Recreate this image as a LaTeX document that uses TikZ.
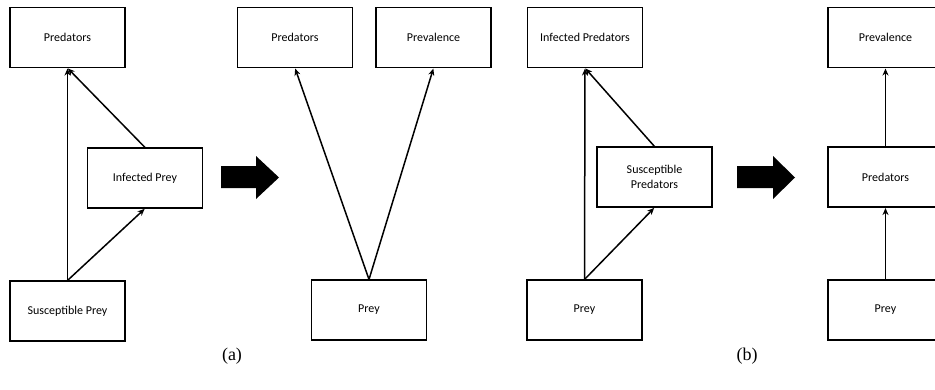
\documentclass[tikz,border=0pt]{standalone}
\usepackage{fontspec}
\setmainfont{Liberation Serif}
\newfontfamily\boxfont{Carlito}
\usetikzlibrary{arrows.meta}
\tikzset{
  box/.style={draw=black, line width=1.1pt, rectangle, minimum width=115pt, minimum height=60pt,
    inner sep=1pt, align=center, font=\boxfont\fontsize{12}{14.5}\selectfont},
  link/.style={line width=1.5pt, -{Stealth[length=7pt,width=6pt]}, shorten >=0.5pt},
  blockarrow/.style={fill=black},
  panellabel/.style={font=\fontsize{18}{20}\selectfont, inner sep=0pt}
}
\begin{document}
\begin{tikzpicture}[x=1pt,y=-1pt]
\clip (0,0) rectangle (935,389);
\useasboundingbox (0,0) rectangle (935,389);
% panel 1
\node[box] (p1pred) at (67.5,37.5) {Predators};
\node[box] (p1inf) at (145,178) {Infected Prey};
\node[box] (p1sus) at (67.5,311) {Susceptible Prey};
\draw[link] (p1sus.north) -- (p1pred.south);
\draw[link] (p1sus.north) -- (p1inf.south);
\draw[link] (p1inf.north) -- (p1pred.south);
% block arrow 1
\fill[blockarrow] (221,166) -- (256,166) -- (256,156) -- (279,177.5) -- (256,199) -- (256,188) -- (221,188) -- cycle;
% panel 2
\node[box] (p2pred) at (295,37.5) {Predators};
\node[box] (p2prev) at (433.5,37.5) {Prevalence};
\node[box] (p2prey) at (369,310) {Prey};
\draw[link] (p2prey.north) -- (p2pred.south);
\draw[link] (p2prey.north) -- (p2prev.south);
% panel 3
\node[box] (p3inf) at (585,37.5) {Infected Predators};
\node[box] (p3sus) at (654.5,177) {Susceptible\\Predators};
\node[box] (p3prey) at (584.5,310) {Prey};
\draw[link] (p3prey.north) -- (p3inf.south);
\draw[link] (p3prey.north) -- (p3sus.south);
\draw[link] (p3sus.north) -- (p3inf.south);
% block arrow 2
\fill[blockarrow] (737,166) -- (773,166) -- (773,156) -- (795,177.5) -- (773,199) -- (773,188) -- (737,188) -- cycle;
% panel 4
\node[box] (p4prev) at (885.5,37.5) {Prevalence};
\node[box] (p4pred) at (885.5,177) {Predators};
\node[box] (p4prey) at (885.5,310) {Prey};
\draw[link] (p4pred.north) -- (p4prev.south);
\draw[link] (p4prey.north) -- (p4pred.south);
% labels
\node[panellabel] (la) at (232,356) {(a)};
\node[panellabel] (lb) at (747,356) {(b)};
\end{tikzpicture}
\end{document}
